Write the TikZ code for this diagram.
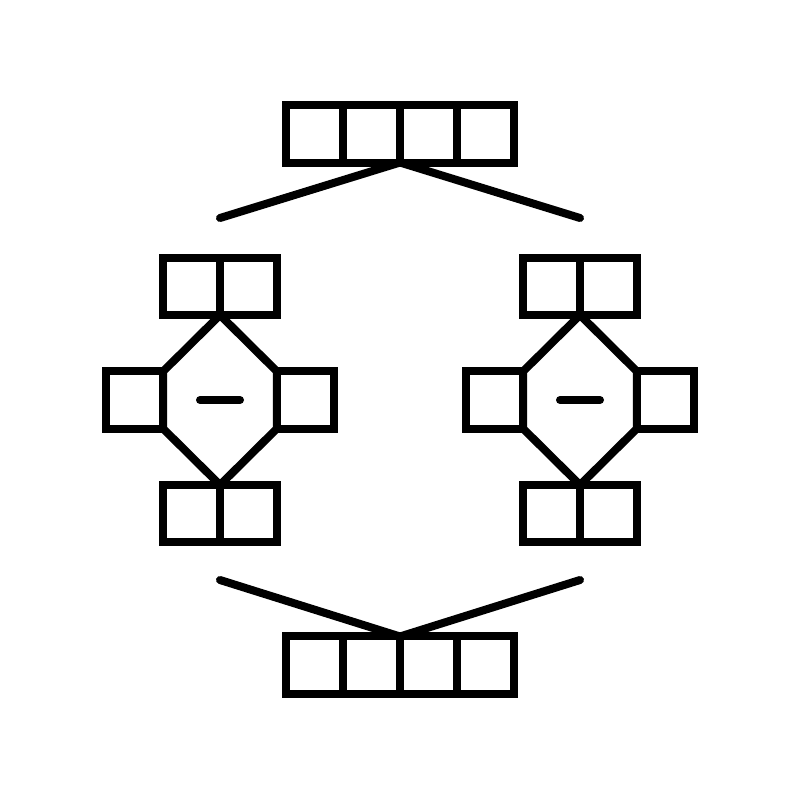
\documentclass[tikz,border=0pt]{standalone}
\begin{document}
\begin{tikzpicture}[x=0.01cm,y=-0.01cm, line width=0.08cm,
  cell/.style={draw, rectangle, minimum width=0.57cm, minimum height=0.57cm, inner sep=0pt, outer sep=0pt},
  link/.style={line cap=round},
  hexa/.style={line join=round}]
\useasboundingbox (0,0) rectangle (800,800);
% top bar of four cells
\foreach \i in {1,...,4} \node[cell] (t\i) at ({286+57*(\i-0.5)},134) {};
% bottom bar of four cells
\foreach \i in {1,...,4} \node[cell] (b\i) at ({286+57*(\i-0.5)},665) {};
% free ends of the connectors
\coordinate (tl) at (220,218);
\coordinate (tr) at (580,218);
\coordinate (bl) at (220,580);
\coordinate (br) at (580,580);
\draw[link] (t2.south east) -- (tl);
\draw[link] (t2.south east) -- (tr);
\draw[link] (b2.north east) -- (bl);
\draw[link] (b2.north east) -- (br);
% two groups
\foreach \cx/\g in {220/L,580/R}{
  \node[cell] (\g a1) at (\cx-28.5,286.5) {};
  \node[cell] (\g a2) at (\cx+28.5,286.5) {};
  \node[cell] (\g c1) at (\cx-28.5,513.5) {};
  \node[cell] (\g c2) at (\cx+28.5,513.5) {};
  \node[cell] (\g l) at (\cx-85.5,400) {};
  \node[cell] (\g r) at (\cx+85.5,400) {};
  \draw[hexa] (\g a1.south east) -- (\g l.north east) -- (\g l.south east)
     -- (\g c1.north east) -- (\g r.south west) -- (\g r.north west) -- cycle;
  \coordinate (\g m1) at (\cx-20,400);
  \coordinate (\g m2) at (\cx+20,400);
  \draw[link] (\g m1) -- (\g m2);
}
\end{tikzpicture}
\end{document}
